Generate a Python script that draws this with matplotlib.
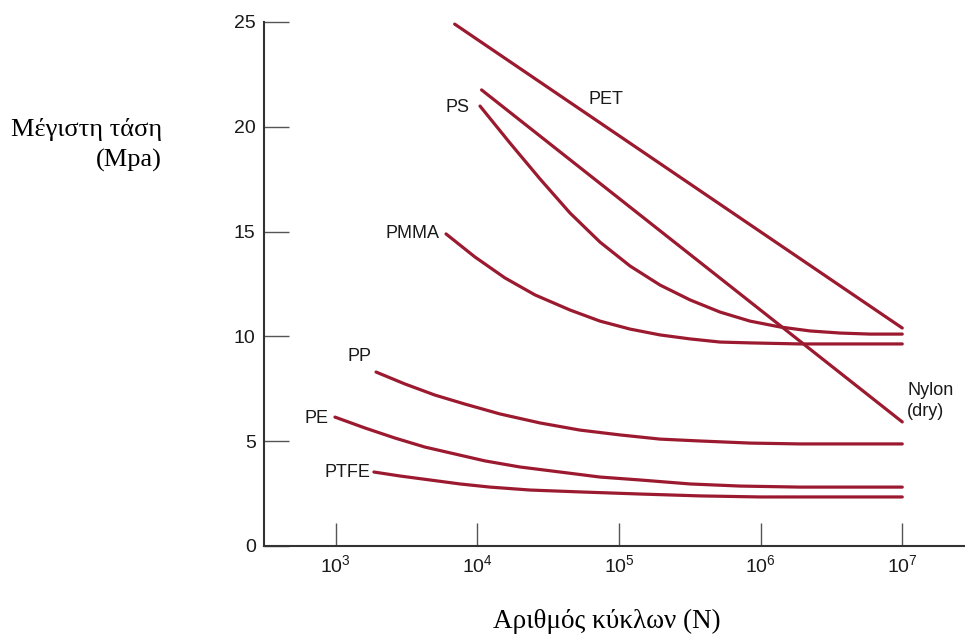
import matplotlib
matplotlib.use('Agg')
import matplotlib.pyplot as plt
import numpy as np

# log10(N) και τάση (MPa) όπως διαβάζονται από το διάγραμμα
pet_logn = [3.84, 7.0]
pet_mpa = [24.9, 10.4]

nylon_logn = [4.03, 7.0]
nylon_mpa = [21.76, 5.92]

ps_logn = [4.019, 4.230, 4.443, 4.654, 4.866, 5.078, 5.290, 5.502,
           5.714, 5.925, 6.137, 6.349, 6.561, 6.773, 7.0]
ps_mpa = [20.99, 19.23, 17.51, 15.89, 14.50, 13.36, 12.45, 11.74,
          11.16, 10.73, 10.45, 10.26, 10.16, 10.11, 10.11]

pmma_logn = [3.779, 3.983, 4.195, 4.407, 4.654, 4.866, 5.078, 5.290,
             5.502, 5.714, 5.925, 6.278, 7.0]
pmma_mpa = [14.89, 13.79, 12.79, 11.98, 11.26, 10.73, 10.35, 10.07,
            9.88, 9.73, 9.69, 9.64, 9.64]

pp_logn = [3.285, 3.489, 3.701, 3.913, 4.160, 4.443, 4.725, 5.007,
           5.290, 5.573, 5.925, 6.278, 7.0]
pp_mpa = [8.30, 7.73, 7.20, 6.77, 6.30, 5.87, 5.53, 5.30,
          5.10, 5.01, 4.91, 4.87, 4.87]

pe_logn = [2.995, 3.207, 3.419, 3.630, 3.842, 4.054, 4.301, 4.584,
           4.866, 5.149, 5.502, 5.854, 6.278, 7.0]
pe_mpa = [6.15, 5.63, 5.15, 4.72, 4.39, 4.06, 3.77, 3.53,
          3.29, 3.15, 2.96, 2.86, 2.81, 2.81]

ptfe_logn = [3.270, 3.454, 3.666, 3.878, 4.090, 4.372, 4.725, 5.149,
             5.573, 5.996, 7.0]
ptfe_mpa = [3.53, 3.34, 3.15, 2.96, 2.81, 2.67, 2.58, 2.48,
            2.39, 2.34, 2.34]

x_ticks = [1e3, 1e4, 1e5, 1e6, 1e7]
x_ticklabels = [r'$\mathregular{10^{3}}$', r'$\mathregular{10^{4}}$', r'$\mathregular{10^{5}}$',
                r'$\mathregular{10^{6}}$', r'$\mathregular{10^{7}}$']
y_ticks = [0, 5, 10, 15, 20, 25]

line_color = '#9c1a30'

fig = plt.figure(figsize=(9.65, 6.35), dpi=100)
ax = fig.add_axes([264 / 965, 1 - 546 / 635, 1 - 264 / 965, (546 - 22) / 635])

curves = [
    (pet_logn, pet_mpa),
    (nylon_logn, nylon_mpa),
    (ps_logn, ps_mpa),
    (pmma_logn, pmma_mpa),
    (pp_logn, pp_mpa),
    (pe_logn, pe_mpa),
    (ptfe_logn, ptfe_mpa),
]
for logn, mpa in curves:
    ax.plot(10 ** np.array(logn), mpa, color=line_color, linewidth=2.3,
            solid_joinstyle='round', solid_capstyle='round')

ax.set_xscale('log')
ax.set_xlim(10 ** 2.494, 10 ** 7.443)
ax.set_ylim(0, 25)
ax.set_xticks(x_ticks)
ax.set_xticklabels(x_ticklabels)
ax.minorticks_off()
ax.set_yticks(y_ticks)

# ετικέτες καμπυλών
lbl = dict(fontsize=13, family='Liberation Sans', color='#1a1a1a', va='center')
ax.text(10 ** 4.91, 21.28, 'PET', ha='center', **lbl)
ax.text(10 ** 3.943, 20.9, 'PS', ha='right', **lbl)
ax.text(10 ** 3.73, 14.89, 'PMMA', ha='right', **lbl)
ax.text(10 ** 3.256, 9.02, 'PP', ha='right', **lbl)
ax.text(10 ** 2.946, 6.1, 'PE', ha='right', **lbl)
ax.text(10 ** 3.242, 3.53, 'PTFE', ha='right', **lbl)
ax.text(10 ** 7.034, 6.92, 'Nylon\n(dry)', ha='left', linespacing=1.25, **lbl)

for s in ['top', 'right']:
    ax.spines[s].set_visible(False)
for s in ['left', 'bottom']:
    ax.spines[s].set_color('#333333')
    ax.spines[s].set_linewidth(1.5)

ax.tick_params(axis='x', direction='in', length=16.5, width=1, color='#555555',
               pad=6, labelsize=14, labelcolor='#1a1a1a')
ax.tick_params(axis='y', direction='in', length=18, width=1, color='#555555',
               pad=6, labelsize=14, labelcolor='#1a1a1a')
for t in ax.get_xticklabels() + ax.get_yticklabels():
    t.set_family('Liberation Sans')

fig.text(162 / 965, 1 - 145 / 635, 'Μέγιστη τάση\n(Mpa)', ha='right', va='center',
         multialignment='right', linespacing=1.45, fontsize=19, family='Liberation Serif')
fig.text(607 / 965, 1 - 621 / 635, 'Αριθμός κύκλων (N)', ha='center', va='center',
         fontsize=19.5, family='Liberation Serif')

fig.savefig('out.png', dpi=100)
plt.close(fig)
